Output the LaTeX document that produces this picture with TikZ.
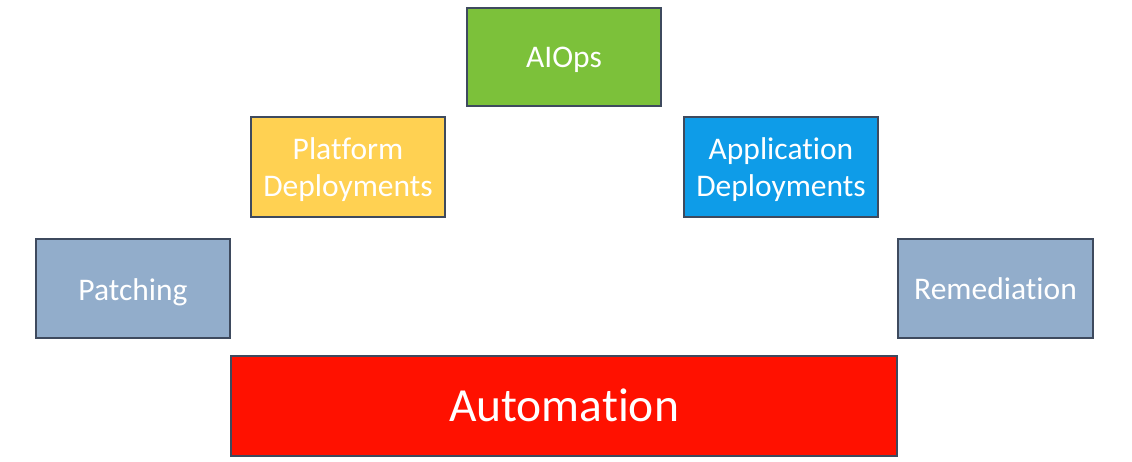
\documentclass[tikz,border=0pt]{standalone}
\usepackage{fontspec}
\setmainfont[Ligatures={NoCommon,NoContextual}]{Carlito}
\definecolor{cgreen}{HTML}{7CC13A}
\definecolor{cyellow}{HTML}{FFD152}
\definecolor{cblue}{HTML}{0E9CE8}
\definecolor{csteel}{HTML}{92ADCB}
\definecolor{cred}{HTML}{FF1100}
\definecolor{cborder}{HTML}{3E4A5E}
\begin{document}
\begin{tikzpicture}[x=1pt,y=-1pt,
  box/.style={draw=cborder, line width=1.4pt, inner sep=0pt,
    minimum width=194pt, minimum height=99pt},
  lbl/.style={anchor=base, inner sep=0pt, text=white,
    font=\fontsize{31.5}{37}\selectfont},
  biglbl/.style={lbl, font=\fontsize{47.5}{56}\selectfont}]
\useasboundingbox (0,0) rectangle (1132,462);
\node[box, fill=cgreen, minimum height=98pt] (aiops) at (564,57) {};
\node[box, fill=cyellow, minimum height=100pt] (platform) at (348,167) {};
\node[box, fill=cblue, minimum height=100pt] (app) at (781,167) {};
\node[box, fill=csteel] (patching) at (133,288.5) {};
\node[box, fill=csteel, minimum width=195pt] (remed) at (995.5,288.5) {};
\node[box, fill=cred, minimum width=666pt, minimum height=100pt] (auto) at (564,406) {};
\node[lbl] (aiopsT) at (564,68) {AIOps};
\node[lbl] (platT1) at (348,159.3) {Platform};
\node[lbl] (platT2) at (348,196.7) {Deployments};
\node[lbl] (appT1) at (781,159.3) {Application};
\node[lbl] (appT2) at (781,196.7) {Deployments};
\node[lbl] (patchT) at (133,300) {Patching};
\node[lbl] (remedT) at (995.5,299.5) {Remediation};
\node[biglbl] (autoT) at (564,421.7) {Automation};
\end{tikzpicture}
\end{document}
